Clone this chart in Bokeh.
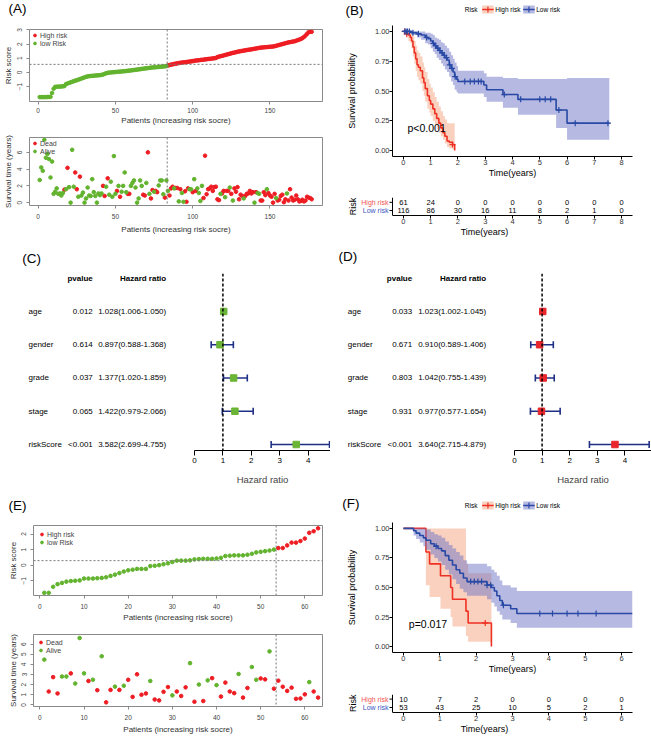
import math
from bokeh.plotting import figure
from bokeh.layouts import column, row
from bokeh.models import (Range1d, FixedTicker, Span, Legend, LegendItem,
                          PrintfTickFormatter)
from bokeh.core.properties import value
from bokeh.embed import file_html
from bokeh.resources import INLINE

FONT = "Liberation Sans"
RED = "#ee1d23"
GREEN = "#62b32e"
GRAY = "#8a8a8a"
KM_RED = "#ee3124"
KM_BLUE = "#2849a5"
BAND_RED = "#f5a27e"
BAND_BLUE = "#6d73c6"
NAVY = "#1f2f86"
BOX_GREEN = "#6bb536"
BOX_RED = "#e8262b"
TAB_RED = "#f0524f"
TAB_BLUE = "#3a56c0"

# ------------------------------------------------------------------ data
# (A) risk score of 177 patients (sorted), first 83 are low risk
a_risk_score = [
    -1.74, -1.74, -1.74, -1.74, -1.74, -1.73, -1.73, -1.72, -1.45, -1.15,
    -1.02, -1.01, -1.00, -1.00, -0.99, -0.98, -0.96, -0.82, -0.78, -0.74,
    -0.70, -0.66, -0.62, -0.58, -0.55, -0.51, -0.47, -0.43, -0.39, -0.35,
    -0.31, -0.28, -0.26, -0.25, -0.24, -0.23, -0.22, -0.21, -0.20, -0.19,
    -0.17, -0.15, -0.10, -0.06, -0.03, -0.01, 0.00, 0.01, 0.02, 0.03,
    0.04, 0.05, 0.06, 0.07, 0.08, 0.09, 0.10, 0.12, 0.13, 0.14,
    0.16, 0.17, 0.19, 0.20, 0.22, 0.23, 0.25, 0.26, 0.28, 0.29,
    0.31, 0.32, 0.34, 0.35, 0.36, 0.37, 0.38, 0.39, 0.40, 0.41,
    0.42, 0.43, 0.45, 0.49, 0.52, 0.55, 0.57, 0.60, 0.62, 0.64,
    0.66, 0.68, 0.70, 0.71, 0.72, 0.74, 0.75, 0.77, 0.78, 0.80,
    0.82, 0.84, 0.85, 0.86, 0.88, 0.89, 0.90, 0.92, 0.93, 0.95,
    0.96, 0.97, 0.99, 1.00, 1.02, 1.08, 1.12, 1.14, 1.17, 1.20,
    1.23, 1.26, 1.29, 1.32, 1.35, 1.38, 1.40, 1.43, 1.46, 1.48,
    1.50, 1.52, 1.54, 1.56, 1.58, 1.60, 1.61, 1.63, 1.65, 1.67,
    1.69, 1.71, 1.73, 1.75, 1.76, 1.77, 1.78, 1.79, 1.80, 1.81,
    1.82, 1.83, 1.85, 1.88, 1.91, 1.94, 1.97, 2.00, 2.03, 2.06,
    2.09, 2.12, 2.14, 2.16, 2.18, 2.20, 2.24, 2.28, 2.32, 2.36,
    2.42, 2.50, 2.60, 2.72, 2.84, 2.86, 2.87]
a_n_low = 83
a_cut_score = 0.57
a_surv_time = [
    2.7, 4.2, 3.8, 7.5, 5.35, 5.8, 5.2, 3.0, 4.9, 1.05,
    1.3, 1.7, 1.05, 1.1, 0.85, 1.15, 1.55, 1.6, 4.15, 1.85,
    0.0, 6.3, 1.9, 3.6, 1.6, 0.7, 3.1, 0.85, 1.2, 0.0,
    0.5, 1.8, 0.85, 0.8, 2.8, 1.25, 0.8, 0.0, 1.1, 0.9,
    1.1, 2.0, 0.8, 1.9, 2.9, 0.95, 2.5, 0.7, 5.55, 1.05,
    1.4, 2.0, 0.7, 1.3, 2.0, 3.6, 1.25, 1.05, 1.05, 2.0,
    2.35, 2.65, 1.8, 0.0, 0.5, 2.65, 2.0, 0.95, 0.85, 2.35,
    6.0, 1.05, 0.5, 1.5, 1.3, 1.4, 1.25, 2.05, 2.65, 2.65,
    1.0, 0.6, 2.65, 1.4, 0.85, 1.7, 1.9, 1.7, 1.75, 1.75,
    0.15, 1.6, 1.15, 0.1, 1.35, 0.1, 1.7, 1.6, 1.6, 1.25,
    2.8, 1.4, 1.7, 1.15, 0.2, 2.0, 0.55, 5.6, 1.0, 1.6,
    1.7, 1.9, 1.4, 1.85, 1.9, 0.4, 0.3, 1.05, 1.1, 1.4,
    0.65, 1.4, 1.4, 1.8, 1.05, 0.25, 1.7, 1.3, 1.85, 0.4,
    0.95, 0.8, 0.5, 0.8, 1.05, 1.1, 1.4, 1.1, 1.25, 0.0,
    1.25, 1.15, 1.05, 0.25, 0.25, 1.25, 0.9, 1.6, 1.15, 0.85,
    0.7, 0.0, 1.05, 0.55, 0.25, 0.35, 0.8, 0.95, 0.05, 0.4,
    1.1, 0.25, 1.6, 0.6, 0.25, 0.35, 0.85, 0.4, 0.15, 0.2,
    0.35, 0.15, 0.25, 0.7, 0.6, 0.55, 0.4]
a_dead = [
    0, 0, 0, 0, 0, 0, 0, 0, 0, 0,
    0, 0, 0, 0, 0, 0, 1, 0, 1, 0,
    0, 0, 0, 1, 1, 0, 1, 0, 0, 0,
    0, 0, 0, 0, 0, 0, 0, 0, 0, 0,
    0, 1, 1, 0, 1, 0, 0, 0, 0, 0,
    1, 0, 1, 0, 0, 0, 0, 1, 1, 0,
    0, 0, 0, 0, 0, 0, 0, 1, 1, 0,
    1, 0, 1, 1, 0, 1, 1, 0, 0, 0,
    0, 1, 0, 0, 1, 1, 1, 0, 1, 1,
    0, 1, 0, 0, 1, 1, 1, 0, 0, 1,
    0, 1, 0, 0, 0, 0, 1, 1, 1, 1,
    1, 1, 1, 1, 1, 1, 1, 0, 1, 1,
    0, 1, 1, 0, 1, 0, 1, 1, 1, 1,
    1, 1, 0, 1, 1, 1, 1, 1, 1, 0,
    1, 0, 0, 1, 1, 1, 1, 0, 1, 1,
    1, 1, 1, 0, 1, 1, 1, 1, 1, 1,
    0, 1, 1, 1, 1, 1, 1, 1, 1, 1,
    1, 1, 1, 1, 1, 1, 1]

# (E) risk score of 63 patients (sorted), first 53 are low risk
e_risk_score = [
    -1.78, -1.78, -1.39, -1.22, -1.14, -1.06, -1.02, -1.00, -0.98, -0.86,
    -0.86, -0.86, -0.84, -0.82, -0.78, -0.69, -0.61, -0.51, -0.41, -0.33,
    -0.29, -0.24, -0.24, -0.24, -0.06, -0.04, 0.00, 0.06, 0.12, 0.20,
    0.29, 0.29, 0.29, 0.31, 0.37, 0.39, 0.41, 0.41, 0.41, 0.43,
    0.47, 0.59, 0.61, 0.63, 0.63, 0.63, 0.67, 0.73, 0.82, 0.86,
    0.90, 0.94, 1.00, 1.10, 1.10, 1.27, 1.45, 1.45, 1.55, 1.71,
    2.08, 2.18, 2.37]
e_n_low = 53
e_cut_score = 0.29
e_surv_time = [
    4.47, 1.32, 2.74, 1.13, 2.80, 2.80, 3.11, 2.11, 6.60, 3.11,
    2.36, 2.48, 1.45, 4.80, 0.25, 1.48, 1.80, 1.48, 1.89, 2.48,
    0.79, 3.02, 1.00, 1.13, 2.36, 0.53, 0.44, 1.29, 1.76, 0.94,
    1.32, 0.88, 1.73, 4.12, 0.31, 2.01, 0.38, 2.42, 2.64, 1.95,
    0.82, 2.20, 1.32, 1.16, 3.05, 0.72, 1.67, 3.74, 2.48, 2.61,
    2.52, 5.28, 1.60, 2.39, 1.79, 1.38, 1.70, 0.60, 0.63, 1.04,
    2.25, 1.32, 0.72]
e_dead = [
    0, 1, 1, 1, 0, 0, 1, 0, 0, 0,
    1, 0, 1, 0, 1, 1, 0, 1, 0, 1,
    1, 1, 1, 1, 0, 1, 1, 1, 1, 0,
    1, 1, 1, 0, 1, 0, 1, 0, 1, 0,
    1, 1, 1, 1, 0, 1, 1, 0, 0, 1,
    1, 0, 1, 1, 1, 1, 1, 1, 1, 1,
    0, 1, 1]

# (B) Kaplan-Meier, training set
b_high_t = [0, 0.1, 0.18, 0.25, 0.3, 0.35, 0.4, 0.45, 0.5, 0.55, 0.62, 0.7, 0.75, 0.8,
            0.88, 0.95, 1.0, 1.08, 1.15, 1.22, 1.3, 1.37, 1.45, 1.52, 1.6, 1.68, 1.8, 1.88]
b_high_s = [1.0, 0.98, 0.97, 0.95, 0.92, 0.87, 0.82, 0.77, 0.72, 0.70, 0.67, 0.61, 0.57, 0.52,
            0.46, 0.42, 0.39, 0.35, 0.31, 0.27, 0.23, 0.19, 0.15, 0.12, 0.08, 0.07, 0.05, 0.0]
b_high_upper = [1.0, 1.0, 1.0, 1.0, 0.99, 0.96, 0.92, 0.88, 0.84, 0.82, 0.79, 0.74, 0.70, 0.66,
                0.60, 0.56, 0.53, 0.49, 0.45, 0.41, 0.37, 0.33, 0.29, 0.26, 0.23, 0.23, 0.23, 0.23]
b_high_lower = [1.0, 0.95, 0.92, 0.90, 0.86, 0.79, 0.73, 0.67, 0.62, 0.59, 0.56, 0.50, 0.46, 0.41,
                0.35, 0.32, 0.29, 0.25, 0.22, 0.18, 0.15, 0.12, 0.09, 0.06, 0.03, 0.02, 0.01, 0.0]
b_high_censor = [0.05, 0.12, 1.8]
b_low_t = [0, 0.3, 0.5, 0.65, 0.8, 0.9, 1.0, 1.08, 1.15, 1.22, 1.3, 1.38, 1.45, 1.52, 1.6,
           1.68, 1.75, 1.82, 1.88, 1.95, 2.0, 2.95, 3.05, 3.65, 4.2, 5.6, 6.0, 7.55]
b_low_s = [1.0, 0.99, 0.98, 0.97, 0.95, 0.94, 0.92, 0.90, 0.88, 0.86, 0.84, 0.82, 0.80, 0.78, 0.76,
           0.72, 0.69, 0.66, 0.62, 0.60, 0.58, 0.55, 0.51, 0.47, 0.43, 0.34, 0.23, 0.23]
b_low_upper = [1.0, 1.0, 1.0, 1.0, 0.99, 0.99, 0.98, 0.97, 0.95, 0.94, 0.93, 0.91, 0.90, 0.88, 0.86,
               0.83, 0.80, 0.77, 0.74, 0.71, 0.67, 0.65, 0.62, 0.61, 0.60, 0.60, 0.61, 0.61]
b_low_lower = [1.0, 0.97, 0.95, 0.93, 0.90, 0.89, 0.86, 0.83, 0.81, 0.78, 0.76, 0.73, 0.71, 0.68, 0.66,
               0.62, 0.58, 0.55, 0.51, 0.49, 0.48, 0.45, 0.41, 0.36, 0.30, 0.19, 0.09, 0.09]
b_low_censor = [0.05, 0.1, 0.15, 0.22, 0.35, 0.55, 0.85, 1.1, 1.18, 1.26, 1.34, 1.42, 1.5, 1.58,
                1.7, 1.78, 1.9, 2.25, 2.45, 2.6, 2.75, 2.85, 3.7, 4.3, 5.0, 5.2, 5.4, 5.7, 6.3, 7.5]
b_p_text = "p<0.001"
b_table_times = [0, 1, 2, 3, 4, 5, 6, 7, 8]
b_table_high = [61, 24, 0, 0, 0, 0, 0, 0, 0]
b_table_low = [116, 86, 30, 16, 11, 8, 2, 1, 0]

# (F) Kaplan-Meier, validation set
f_high_t = [0, 0.62, 0.72, 1.02, 1.3, 1.35, 1.72, 1.78, 2.42]
f_high_s = [1.0, 0.8, 0.7, 0.6, 0.5, 0.4, 0.3, 0.2, 0.0]
f_high_upper = [1.0, 1.0, 1.0, 1.0, 1.0, 1.0, 0.70, 0.62, 0.62]
f_high_lower = [1.0, 0.52, 0.42, 0.32, 0.25, 0.17, 0.09, 0.04, 0.0]
f_high_censor = [2.25]
f_low_t = [0, 0.28, 0.35, 0.45, 0.55, 0.62, 0.75, 0.85, 0.95, 1.05, 1.15, 1.25, 1.35, 1.45,
           1.55, 1.65, 1.75, 2.3, 2.42, 2.5, 2.57, 2.65, 2.72, 2.95, 3.12, 6.3]
f_low_s = [1.0, 0.98, 0.96, 0.94, 0.92, 0.90, 0.87, 0.85, 0.83, 0.81, 0.77, 0.73, 0.69, 0.65,
           0.62, 0.58, 0.55, 0.52, 0.50, 0.47, 0.43, 0.39, 0.35, 0.32, 0.28, 0.28]
f_low_upper = [1.0, 1.0, 1.0, 1.0, 1.0, 0.99, 0.97, 0.95, 0.94, 0.92, 0.89, 0.86, 0.83, 0.80,
               0.77, 0.73, 0.70, 0.68, 0.65, 0.63, 0.60, 0.56, 0.52, 0.50, 0.47, 0.47]
f_low_lower = [1.0, 0.94, 0.91, 0.88, 0.85, 0.82, 0.78, 0.75, 0.72, 0.69, 0.65, 0.61, 0.57, 0.53,
               0.49, 0.46, 0.43, 0.40, 0.37, 0.34, 0.30, 0.27, 0.23, 0.20, 0.16, 0.16]
f_low_censor = [0.9, 1.85, 1.95, 2.05, 2.15, 2.3, 2.4, 2.75, 3.75, 4.1, 4.5, 4.8, 5.3]
f_p_text = "p=0.017"
f_table_times = [0, 1, 2, 3, 4, 5, 6]
f_table_high = [10, 7, 2, 0, 0, 0, 0]
f_table_low = [53, 43, 25, 10, 5, 2, 1]

# (C) univariate / (D) multivariate Cox
forest_vars = ["age", "gender", "grade", "stage", "riskScore"]
forest_rows = [1, 2, 3, 4, 5]
c_pvalue = ["0.012", "0.614", "0.037", "0.065", "<0.001"]
c_hr = [1.028, 0.897, 1.377, 1.422, 3.582]
c_lo = [1.006, 0.588, 1.020, 0.979, 2.699]
c_hi = [1.050, 1.368, 1.859, 2.066, 4.755]
d_pvalue = ["0.033", "0.671", "0.803", "0.931", "<0.001"]
d_hr = [1.023, 0.910, 1.042, 0.977, 3.640]
d_lo = [1.002, 0.589, 0.755, 0.577, 2.715]
d_hi = [1.045, 1.406, 1.439, 1.654, 4.879]
forest_ticks = [0, 1, 2, 3, 4]


# ------------------------------------------------------------------ helpers
def new_fig(w, h, l, r, t, b, xr, yr, xaxis=True, yaxis=True):
    p = figure(width=w, height=h, x_range=Range1d(*xr), y_range=Range1d(*yr),
               output_backend="svg", toolbar_location=None,
               x_axis_location="below" if xaxis else None,
               y_axis_location="left" if yaxis else None,
               min_border_left=l, min_border_right=r,
               min_border_top=t, min_border_bottom=b)
    p.grid.visible = False
    p.background_fill_color = "white"
    p.border_fill_color = "white"
    return p


def header_fig(w, h, let, let_x, let_y):
    # a strip whose frame is its whole area, in pixel units (y grows downwards)
    p = new_fig(w, h, 0, 0, 0, 0, (0, w), (h, 0), xaxis=False, yaxis=False)
    p.outline_line_color = None
    p.text(x=[let_x], y=[let_y], text=[let], text_font=value(FONT),
           text_font_size=value("13.5px"), text_baseline="middle", text_align="left",
           text_color="black")
    return p


def km_header(h, let, let_x, let_y, legend_y):
    p = header_fig(321, h, let, let_x, let_y)
    kw = dict(text_font=value(FONT), text_font_size=value("6.5px"), text_baseline="middle",
              text_color="black")
    p.text(x=[147], y=[legend_y], text=["Risk"], text_align="right", **kw)
    keys = (("High risk", KM_RED, BAND_RED, 151.7), ("Low risk", KM_BLUE, BAND_BLUE, 192.7))
    for lab, lc, bc, kx in keys:
        p.quad(left=[kx], right=[kx + 11.5], top=[legend_y - 4], bottom=[legend_y + 4],
               fill_color=bc, fill_alpha=0.5, line_color=None)
        p.segment(x0=[kx], y0=[legend_y], x1=[kx + 11.5], y1=[legend_y],
                  line_color=lc, line_width=1.6)
        p.scatter(x=[kx + 5.75], y=[legend_y], marker="cross", size=6, line_color=lc,
                  line_width=1.2)
        p.text(x=[kx + 13], y=[legend_y], text=[lab], text_align="left", **kw)
    return p


def r_fig(w, h, l, r, t, b, xr, yr, xticks, yticks, xlabel, ylabel, xls, xas, yls, yas):
    p = new_fig(w, h, l, r, t, b, xr, yr)
    p.outline_line_color = GRAY
    p.outline_line_width = 1
    for ax in p.axis:
        ax.axis_line_color = None
        ax.major_tick_line_color = GRAY
        ax.major_tick_out = 3
        ax.major_tick_in = 0
        ax.minor_tick_line_color = None
        ax.major_label_text_font = FONT
        ax.major_label_text_font_size = "6.5px"
        ax.major_label_text_color = "#444444"
        ax.axis_label_text_font = FONT
        ax.axis_label_text_font_size = "8px"
        ax.axis_label_text_font_style = "normal"
        ax.axis_label_text_color = "#333333"
    p.xaxis.ticker = FixedTicker(ticks=xticks)
    p.yaxis.ticker = FixedTicker(ticks=yticks)
    p.yaxis.major_label_orientation = "vertical"
    p.xaxis.axis_label = xlabel
    p.yaxis.axis_label = ylabel
    p.xaxis.major_label_standoff = xls
    p.xaxis.axis_label_standoff = xas
    p.yaxis.major_label_standoff = yls
    p.yaxis.axis_label_standoff = yas
    return p


def dot_legend(p, items, margin):
    lg = Legend(items=items, location="top_left", margin=margin, padding=1, spacing=0,
                label_text_font=FONT, label_text_font_size="7px", label_height=8,
                glyph_height=8, glyph_width=7, label_standoff=2,
                background_fill_alpha=0, border_line_color=None)
    p.add_layout(lg)


def risk_score_plot(w, h, l, r, t, b, xr, yr, yticks, xticks, score, n_low, cut,
                    xls, xas, yls, yas, lmargin):
    idx = list(range(1, len(score) + 1))
    p = r_fig(w, h, l, r, t, b, xr, yr, xticks, yticks,
              "Patients (increasing risk socre)", "Risk score", xls, xas, yls, yas)
    lo_x = [i for i in idx if i <= n_low]
    hi_x = [i for i in idx if i > n_low]
    r_hi = p.scatter(hi_x, [score[i - 1] for i in hi_x], size=3.6, color=RED)
    r_lo = p.scatter(lo_x, [score[i - 1] for i in lo_x], size=3.6, color=GREEN)
    p.add_layout(Span(location=n_low + 0.5, dimension="height", line_color="#777777",
                      line_dash="2 2", line_width=1))
    p.add_layout(Span(location=cut, dimension="width", line_color="#777777",
                      line_dash="2 2", line_width=1))
    dot_legend(p, [LegendItem(label="High risk", renderers=[r_hi]),
                   LegendItem(label="low Risk", renderers=[r_lo])], lmargin)
    return p


def surv_time_plot(w, h, l, r, t, b, xr, yr, yticks, xticks, times, dead, n_low,
                   xls, xas, yls, yas, lmargin):
    idx = list(range(1, len(times) + 1))
    p = r_fig(w, h, l, r, t, b, xr, yr, xticks, yticks,
              "Patients (increasing risk socre)", "Survival time (years)", xls, xas, yls, yas)
    d_x = [i for i in idx if dead[i - 1] == 1]
    a_x = [i for i in idx if dead[i - 1] == 0]
    r_d = p.scatter(d_x, [times[i - 1] for i in d_x], size=3.6, color=RED)
    r_a = p.scatter(a_x, [times[i - 1] for i in a_x], size=3.6, color=GREEN)
    p.add_layout(Span(location=n_low + 0.5, dimension="height", line_color="#777777",
                      line_dash="2 2", line_width=1))
    dot_legend(p, [LegendItem(label="Dead", renderers=[r_d]),
                   LegendItem(label="Alive", renderers=[r_a])], lmargin)
    return p


def step_expand(t, v):
    xs, ys = [], []
    for i in range(len(t)):
        xs.append(t[i])
        ys.append(v[i])
        if i + 1 < len(t):
            xs.append(t[i + 1])
            ys.append(v[i])
    return xs, ys


def surv_at(t, s, c):
    val = s[0]
    for ti, si in zip(t, s):
        if ti <= c:
            val = si
    return val


def km_group(p, t, s, lo, hi, cens, line_color, band_color):
    bx, blo = step_expand(t, lo)
    _, bhi = step_expand(t, hi)
    p.varea(x=bx, y1=blo, y2=bhi, fill_color=band_color, fill_alpha=0.5)
    p.step(x=t, y=s, mode="after", line_color=line_color, line_width=1.6)
    cy = [surv_at(t, s, c) for c in cens]
    p.scatter(x=cens, y=cy, marker="cross", size=6, line_color=line_color, line_width=1.2)


def km_axes(p, xticks):
    p.outline_line_color = None
    for ax in p.axis:
        ax.axis_line_color = "black"
        ax.axis_line_width = 1
        ax.major_tick_line_color = "black"
        ax.major_tick_out = 3
        ax.major_tick_in = 0
        ax.minor_tick_line_color = None
        ax.major_label_text_font = FONT
        ax.major_label_text_font_size = "7.5px"
        ax.major_label_text_color = "#333333"
        ax.axis_label_text_font = FONT
        ax.axis_label_text_font_size = "9px"
        ax.axis_label_text_font_style = "normal"
        ax.axis_label_text_color = "black"
    p.xaxis.ticker = FixedTicker(ticks=xticks)
    p.xaxis.axis_label = "Time(years)"
    p.xaxis.major_label_standoff = 0
    p.xaxis.axis_label_standoff = 0


KM_YR = (-0.05, 1.05)
KM_LEFT = 62
KM_RIGHT = 19
KM_W = 321


def km_plot(h, t_b, b_b, xr, xticks, high, low, ptxt):
    p = new_fig(KM_W, h, KM_LEFT, KM_RIGHT, t_b, b_b, xr, KM_YR)
    km_axes(p, xticks)
    p.yaxis.ticker = FixedTicker(ticks=[0, 0.25, 0.5, 0.75, 1.0])
    p.yaxis.formatter = PrintfTickFormatter(format="%.2f")
    p.yaxis.axis_label = "Survival probability"
    p.yaxis.major_label_standoff = 0
    p.yaxis.axis_label_standoff = 15
    km_group(p, *high, KM_RED, BAND_RED)
    km_group(p, *low, KM_BLUE, BAND_BLUE)
    p.text(x=[0.15], y=[0.19], text=[ptxt], text_font=value(FONT),
           text_font_size=value("10.5px"), text_baseline="middle", text_align="left",
           text_color="black")
    return p


def km_table(h, t_b, frame_h, b_b, km_xr, xticks, times, n_high, n_low, row_px):
    ppu = (KM_W - KM_LEFT - KM_RIGHT) / (km_xr[1] - km_xr[0])
    l_b = 6
    frame_w = KM_W - l_b - KM_RIGHT
    x0 = km_xr[1] - frame_w / ppu
    y0 = 0.4
    yr = (y0, y0 + frame_h / row_px)
    p = new_fig(KM_W, h, l_b, KM_RIGHT, t_b, b_b, (x0, km_xr[1]), yr, yaxis=False)
    km_axes(p, xticks)
    p.xaxis.bounds = km_xr
    ax_x = km_xr[0]
    p.add_layout(Span(location=ax_x, dimension="height", line_color="black", line_width=1))
    rows_ = [2, 1]
    p.segment(x0=[ax_x, ax_x], y0=rows_, x1=[ax_x - 3 / ppu, ax_x - 3 / ppu], y1=rows_,
              line_color="black", line_width=1)
    p.text(x=[ax_x - 4 / ppu], y=[2], text=["High risk"], text_color=TAB_RED,
           text_font=value(FONT), text_font_size=value("7px"), text_align="right",
           text_baseline="middle")
    p.text(x=[ax_x - 4 / ppu], y=[1], text=["Low risk"], text_color=TAB_BLUE,
           text_font=value(FONT), text_font_size=value("7px"), text_align="right",
           text_baseline="middle")
    p.text(x=[ax_x - 39.5 / ppu], y=[1.5], text=["Risk"], angle=math.pi / 2,
           text_font=value(FONT), text_font_size=value("9px"), text_align="center",
           text_baseline="middle", text_color="black")
    p.text(x=times, y=[2] * len(times), text=[str(n) for n in n_high], text_font=value(FONT),
           text_font_size=value("7.5px"), text_align="center", text_baseline="middle",
           text_color="black")
    p.text(x=times, y=[1] * len(times), text=[str(n) for n in n_low], text_font=value(FONT),
           text_font_size=value("7.5px"), text_align="center", text_baseline="middle",
           text_color="black")
    return p


FOREST_Y0_PAGE = 277.7
FOREST_ROW_PX = 33.26
FOREST_FRAME_TOP = 273
FOREST_AXIS = 450


def ypage(page_y):
    return (page_y - FOREST_Y0_PAGE) / FOREST_ROW_PX


def forest_text(width, page_top, page_bottom, x_var, x_p, x_hr, pvals, hr, lo, hi):
    p = new_fig(width, page_bottom - page_top, 0, 0, FOREST_FRAME_TOP - page_top,
                page_bottom - FOREST_AXIS, (0, width),
                (ypage(FOREST_AXIS), ypage(FOREST_FRAME_TOP)), xaxis=False, yaxis=False)
    p.outline_line_color = None
    hr_txt = ["%.3f(%.3f-%.3f)" % (a, b, c) for a, b, c in zip(hr, lo, hi)]
    kw = dict(text_font=value(FONT), text_font_size=value("8px"), text_baseline="middle",
              text_color="black")
    p.text(x=[x_var] * 5, y=forest_rows, text=forest_vars, text_align="left", **kw)
    p.text(x=[x_p] * 5, y=forest_rows, text=pvals, text_align="right", **kw)
    p.text(x=[x_hr] * 5, y=forest_rows, text=hr_txt, text_align="right", **kw)
    p.text(x=[x_p, x_hr], y=[0, 0], text=["pvalue", "Hazard ratio"], text_align="right",
           text_font_style="bold", **kw)
    return p


def forest_plot(width, page_top, page_bottom, left_b, ppu, hr, lo, hi, color):
    frame_w = width - left_b
    p = new_fig(width, page_bottom - page_top, left_b, 0, FOREST_FRAME_TOP - page_top,
                page_bottom - FOREST_AXIS, (0, frame_w / ppu),
                (ypage(FOREST_AXIS), ypage(FOREST_FRAME_TOP)), yaxis=False)
    p.outline_line_color = None
    ax = p.xaxis[0]
    ax.ticker = FixedTicker(ticks=forest_ticks)
    ax.axis_line_color = "black"
    ax.axis_line_width = 1
    ax.major_tick_line_color = "black"
    ax.major_tick_out = 5
    ax.major_tick_in = 0
    ax.minor_tick_line_color = None
    ax.major_label_text_font = FONT
    ax.major_label_text_font_size = "8px"
    ax.major_label_text_color = "black"
    ax.major_label_standoff = 2
    ax.axis_label = "Hazard ratio"
    ax.axis_label_text_font = FONT
    ax.axis_label_text_font_size = "9.5px"
    ax.axis_label_text_font_style = "normal"
    ax.axis_label_standoff = 8
    p.add_layout(Span(location=1, dimension="height", line_color="black", line_dash="3 2",
                      line_width=1.5))
    p.segment(x0=lo, y0=forest_rows, x1=hi, y1=forest_rows, line_color=NAVY, line_width=1.6)
    p.scatter(x=lo, y=forest_rows, marker="dash", angle=math.pi / 2, size=7,
              line_color=NAVY, line_width=1.6)
    p.scatter(x=hi, y=forest_rows, marker="dash", angle=math.pi / 2, size=7,
              line_color=NAVY, line_width=1.6)
    p.scatter(x=hr, y=forest_rows, marker="square", size=6.5, fill_color=color,
              line_color=color)
    return p


# ------------------------------------------------------------------ panels
LW = 330  # left column width
# (A): header 0..20, risk plot 20..127 (frame 29..104)
ha = header_fig(LW, 20, "(A)", 8, 8)
pa_top = risk_score_plot(LW, 107, 27, 8, 9, 23, (-5.6, 184), (-2.05, 3.03),
                         [-1, 0, 1, 2, 3], [0, 50, 100, 150], a_risk_score, a_n_low,
                         a_cut_score, 3, 0, 4, 2, 2)
# survival plot 127..236 (frame 137..209)
pa_bot = surv_time_plot(LW, 109, 27, 8, 10, 27, (-5.6, 184), (-0.34, 7.77),
                        [0, 2, 4, 6], [0, 50, 100, 150], a_surv_time, a_dead, a_n_low,
                        5, 3, 4, 2, 2)
# (C): header 236..266, forest 266..492
hc = header_fig(LW, 30, "(C)", 21.7, 22)
c_text = forest_text(190, 266, 492, 28, 92.3, 165.7, c_pvalue, c_hr, c_lo, c_hi)
c_forest = forest_plot(140, 266, 492, 4, 28.4, c_hr, c_lo, c_hi, BOX_GREEN)
# (E): header 492..515, risk plot 515..624 (frame 525..598)
he = header_fig(LW, 23, "(E)", 8, 13)
pe_top = risk_score_plot(LW, 109, 33, 8, 10, 26, (-1.45, 64.0), (-1.95, 2.55),
                         [-1, 0, 1, 2], [0, 10, 20, 30, 40, 50, 60], e_risk_score, e_n_low,
                         e_cut_score, 5, 1, 4, 1, 5)
# survival plot 624..736 (frame 634..709)
pe_bot = surv_time_plot(LW, 112, 33, 8, 10, 27, (-1.45, 64.0), (-0.16, 6.95),
                        [0, 1, 2, 3, 4, 5, 6], [0, 10, 20, 30, 40, 50, 60],
                        e_surv_time, e_dead, e_n_low, 5, 2, 4, 1, 4)

# (B): header 0..20, KM 20..180 (frame 25..156)
B_XR = (-0.4, 8.4)
hb = km_header(20, "(B)", 15, 10, 9)
pb_km = km_plot(160, 5, 24, B_XR, b_table_times,
                (b_high_t, b_high_s, b_high_lower, b_high_upper, b_high_censor),
                (b_low_t, b_low_s, b_low_lower, b_low_upper, b_low_censor), b_p_text)
# risk table: 180..239 (frame 197..218)
pb_tab = km_table(59, 17, 21, 21, B_XR, b_table_times, b_table_times, b_table_high,
                  b_table_low, 9.6)
# (D): header 239..266, forest 266..493
hd = header_fig(321, 27, "(D)", 8, 17)
d_text = forest_text(180, 266, 493, 17.3, 81.7, 155.7, d_pvalue, d_hr, d_lo, d_hi)
d_forest = forest_plot(141, 266, 493, 4, 27.6, d_hr, d_lo, d_hi, BOX_RED)
# (F): header 493..515, KM 515..676 (frame 522..652)
F_XR = (-0.3, 6.3)
hf = km_header(22, "(F)", 11.7, 10, 12)
pf_km = km_plot(161, 7, 24, F_XR, f_table_times,
                (f_high_t, f_high_s, f_high_lower, f_high_upper, f_high_censor),
                (f_low_t, f_low_s, f_low_lower, f_low_upper, f_low_censor), f_p_text)
# risk table: 676..736 (frame 694..714)
pf_tab = km_table(60, 18, 20, 22, F_XR, f_table_times, f_table_times, f_table_high,
                  f_table_low, 9.3)

left = column(row(ha), row(pa_top), row(pa_bot), row(hc), row(c_text, c_forest),
              row(he), row(pe_top), row(pe_bot))
right = column(row(hb), row(pb_km), row(pb_tab), row(hd), row(d_text, d_forest),
               row(hf), row(pf_km), row(pf_tab))
layout = row(left, right)

open("out.html", "w").write(file_html(layout, INLINE))
